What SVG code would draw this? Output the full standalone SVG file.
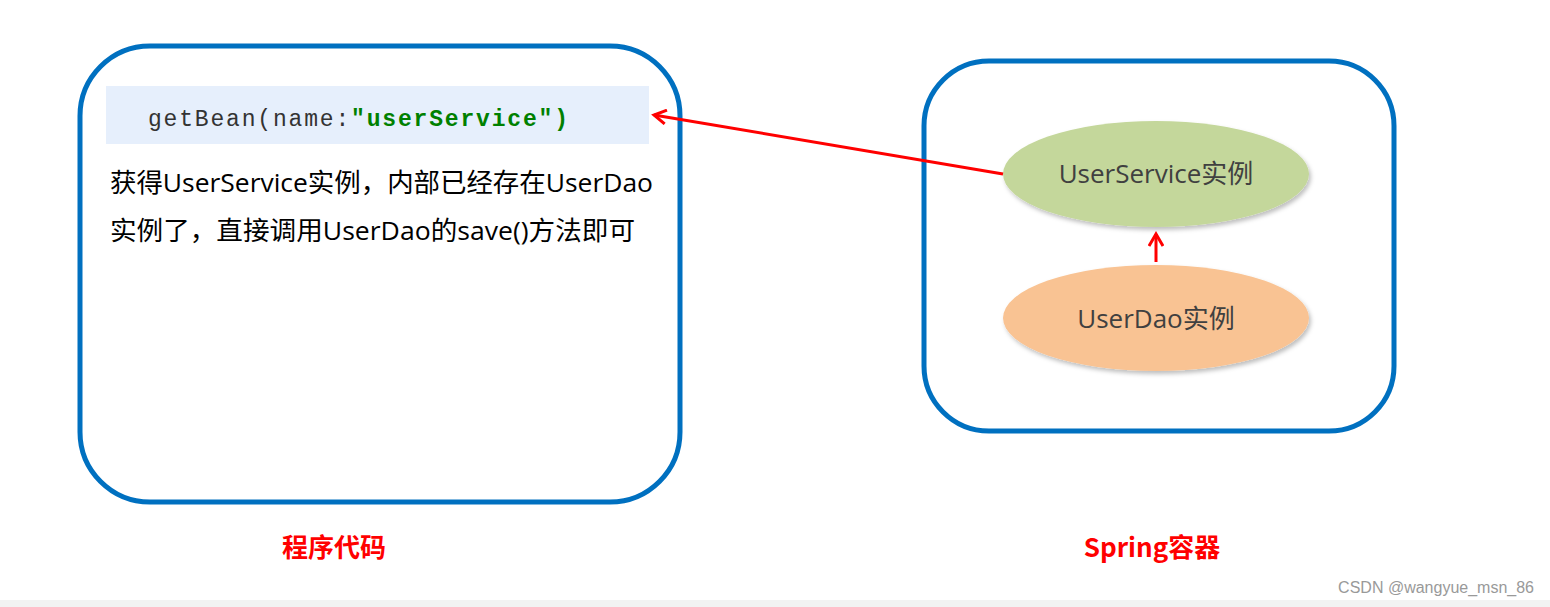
<svg xmlns="http://www.w3.org/2000/svg" width="1550" height="607" viewBox="0 0 1550 607">
<style>
.box{fill:#fff;stroke:#0070c0;stroke-width:5}
.t{font-family:"Open Sans","Noto Sans CJK SC",sans-serif;font-size:26px;fill:#000}
.e{font-family:"Open Sans","Noto Sans CJK SC",sans-serif;font-size:26px;fill:#404040;text-anchor:middle}
.lbl{font-family:"Noto Sans CJK SC",sans-serif;font-size:26px;font-weight:bold;fill:#ff0000;text-anchor:middle}
.code{font-family:"Liberation Mono",monospace;font-size:23px}
.c{stroke:#ff0000;stroke-width:3;fill:none}
</style>
<defs>
<marker id="a" markerWidth="16" markerHeight="16" refX="13" refY="8" orient="auto" markerUnits="userSpaceOnUse"><path d="M1,1 L13,8 L1,15" fill="none" stroke="#ff0000" stroke-width="3"/></marker>
<filter id="sh" x="-10%" y="-10%" width="130%" height="140%"><feDropShadow dx="2" dy="3" stdDeviation="2" flood-color="#000" flood-opacity="0.25"/></filter>
</defs>
<rect x="0" y="600" width="1550" height="7" fill="#f2f2f2"/>
<g id="code-box">
<rect class="box" x="80" y="46" width="600" height="456" rx="70"/>
<rect x="106" y="86" width="543" height="58" fill="#e6effc"/>
<text class="code" x="148" y="126" textLength="420" lengthAdjust="spacing"><tspan fill="#333">getBean(name:</tspan><tspan fill="#008000" font-weight="bold">"userService")</tspan></text>
<text class="t" x="110" y="192" textLength="543" lengthAdjust="spacingAndGlyphs">获得UserService实例，内部已经存在UserDao</text>
<text class="t" x="110" y="240" textLength="525" lengthAdjust="spacingAndGlyphs">实例了，直接调用UserDao的save()方法即可</text>
</g>
<g id="spring-box">
<rect class="box" x="924" y="61" width="470" height="370" rx="65"/>
</g>
<g id="userservice">
<ellipse cx="1156" cy="174" rx="153" ry="53" fill="#c4d79b" filter="url(#sh)"/>
<text class="e" x="1156" y="183">UserService实例</text>
</g>
<g id="userdao">
<ellipse cx="1156" cy="318" rx="153" ry="53" fill="#f9c393" filter="url(#sh)"/>
<text class="e" x="1156" y="328">UserDao实例</text>
</g>
<g id="connectors">
<line class="c" x1="1003" y1="174" x2="654" y2="115" marker-end="url(#a)"/>
<line class="c" x1="1156" y1="262" x2="1156" y2="234" marker-end="url(#a)"/>
</g>
<text class="lbl" x="334" y="557">程序代码</text>
<text class="lbl" x="1152" y="557">Spring容器</text>
<text x="1534" y="593" font-family="Liberation Sans,sans-serif" font-size="16" fill="#999" text-anchor="end">CSDN @wangyue_msn_86</text>
</svg>
